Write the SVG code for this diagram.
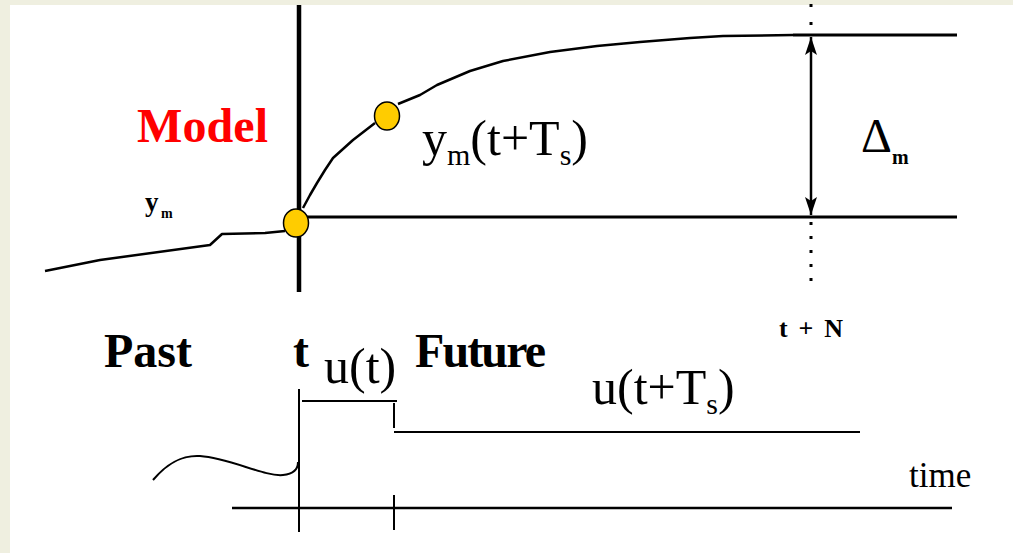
<svg xmlns="http://www.w3.org/2000/svg" width="1013" height="553" viewBox="0 0 1013 553">
  <style>
    .ln { stroke: #000; fill: none; }
    .bm { font-family: 'Liberation Serif', 'DejaVu Serif', serif; font-weight: bold; fill: #000; }
    .rg { font-family: 'Liberation Serif', 'DejaVu Serif', serif; font-weight: normal; fill: #000; }
    .dot { fill: #ffcc00; stroke: #000; stroke-width: 1.5; }
  </style>
  <defs>
    <marker id="ah" viewBox="0 0 18 12" refX="18" refY="6" markerWidth="18" markerHeight="12" markerUnits="userSpaceOnUse" orient="auto-start-reverse">
      <path d="M18,6 L0,0 L4,6 L0,12 Z" fill="#000"/>
    </marker>
  </defs>
  <rect x="0" y="0" width="1013" height="553" fill="#ffffff"/>
  <rect x="0" y="0" width="1013" height="5" fill="#efefe0"/>
  <rect x="0" y="0" width="10" height="553" fill="#efefe0"/>

  <g id="axes-top">
    <line class="ln" x1="299" y1="5" x2="299" y2="292" stroke-width="4.5"/>
    <line class="ln" x1="300" y1="217" x2="957" y2="217" stroke-width="3"/>
    <line class="ln" x1="811" y1="4" x2="811" y2="30" stroke-width="3" stroke-dasharray="3 15"/>
    <line class="ln" x1="811" y1="222" x2="811" y2="290" stroke-width="3" stroke-dasharray="3 11"/>
  </g>

  <g id="model-curve">
    <polyline class="ln" stroke-width="2.5" stroke-linejoin="round" points="45,271 100,260 210,245 222,234 265,233 285,231"/>
    <polyline class="ln" stroke-width="2.5" stroke-linejoin="round" points="303,208 310,195 317,183 325,170 333,158 353,140 375,123"/>
    <polyline class="ln" stroke-width="2.5" stroke-linejoin="round" points="398,104 420,95 437,85 470,71 503,61 550,52 597,46 640,42 690,38 723,36 793,35"/>
    <line class="ln" x1="793" y1="35" x2="957" y2="35" stroke-width="3"/>
  </g>

  <g id="connectors">
    <line class="ln" x1="811" y1="37" x2="811" y2="215" stroke-width="2.5" marker-start="url(#ah)" marker-end="url(#ah)"/>
  </g>

  <g id="node-t">
    <ellipse class="dot" cx="296" cy="223" rx="12.5" ry="14"/>
  </g>
  <g id="node-t-ts">
    <ellipse class="dot" cx="387" cy="116" rx="12.5" ry="14"/>
  </g>

  <g id="labels-top">
    <text x="137" y="142" class="bm" font-size="48" style="fill:#ff0000" textLength="131">Model</text>
    <text x="145" y="211" class="bm" font-size="27">y</text>
    <text x="161" y="218" class="bm" font-size="14">m</text>
    <text x="422" y="155" class="rg" font-size="50">y<tspan font-size="30" dy="10">m</tspan><tspan dy="-10">(t+T</tspan><tspan font-size="30" dy="10">s</tspan><tspan dy="-10">)</tspan></text>
    <text x="861" y="152" class="rg" font-size="48">Δ</text>
    <text x="892" y="164" class="bm" font-size="20">m</text>
    <text x="779" y="337" class="bm" font-size="26" textLength="64">t + N</text>
  </g>

  <g id="labels-bottom">
    <text x="104" y="367" class="bm" font-size="48">Past</text>
    <text x="293" y="367" class="bm" font-size="48">t</text>
    <text x="415" y="367" class="bm" font-size="48" textLength="131">Future</text>
    <text x="324" y="383" class="rg" font-size="50">u(t)</text>
    <text x="592" y="404" class="rg" font-size="50">u(t+T<tspan font-size="30" dy="10">s</tspan><tspan dy="-10">)</tspan></text>
    <text x="909" y="487" class="rg" font-size="35">time</text>
  </g>

  <g id="input-signal">
    <line class="ln" x1="299" y1="389" x2="299" y2="532" stroke-width="2"/>
    <line class="ln" x1="302" y1="401" x2="397" y2="401" stroke-width="2"/>
    <line class="ln" x1="394" y1="403" x2="394" y2="428" stroke-width="2"/>
    <line class="ln" x1="394" y1="432" x2="860" y2="432" stroke-width="2"/>
    <line class="ln" x1="232" y1="508" x2="952" y2="508" stroke-width="2.5"/>
    <line class="ln" x1="394" y1="495" x2="394" y2="530" stroke-width="2"/>
    <path class="ln" stroke-width="2" d="M153,480 C170,460 185,455 200,456 C230,458 265,477 283,475 C293,474 298,470 298,462"/>
  </g>
</svg>
